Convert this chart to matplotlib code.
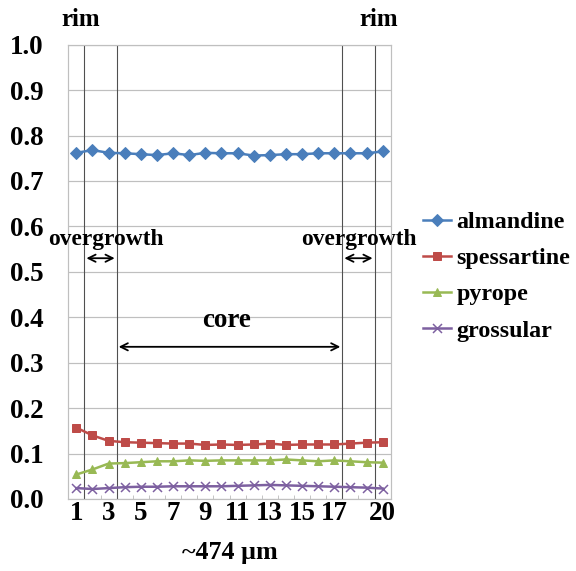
import matplotlib
matplotlib.use("Agg")
import matplotlib.pyplot as plt
import numpy as np

points = list(range(1, 21))
almandine = [0.762, 0.768, 0.762, 0.761, 0.759, 0.757, 0.761, 0.757, 0.762, 0.761,
             0.761, 0.756, 0.757, 0.759, 0.759, 0.761, 0.761, 0.761, 0.761, 0.765]
spessartine = [0.157, 0.140, 0.128, 0.125, 0.124, 0.123, 0.122, 0.122, 0.119, 0.120,
               0.119, 0.120, 0.122, 0.119, 0.120, 0.120, 0.120, 0.122, 0.124, 0.125]
pyrope = [0.054, 0.065, 0.078, 0.079, 0.081, 0.083, 0.083, 0.085, 0.084, 0.085,
          0.085, 0.085, 0.085, 0.087, 0.085, 0.083, 0.085, 0.083, 0.081, 0.080]
grossular = [0.024, 0.022, 0.024, 0.026, 0.027, 0.027, 0.028, 0.028, 0.028, 0.028,
             0.029, 0.030, 0.031, 0.030, 0.029, 0.028, 0.027, 0.026, 0.025, 0.023]
series_names = ["almandine", "spessartine", "pyrope", "grossular"]
xtick_labels = ["1", "3", "5", "7", "9", "11", "13", "15", "17", "20"]
xtick_pos = [1, 3, 5, 7, 9, 11, 13, 15, 17, 20]
boundaries = [1.5, 3.5, 17.5, 19.5]

plt.rcParams['font.family'] = ['Liberation Serif', 'DejaVu Serif']
plt.rcParams['font.weight'] = 'bold'

fig = plt.figure(figsize=(576/72, 571/72), dpi=72)
ax = fig.add_axes([68.3/576, 1-499/571, (390.7-68.3)/576, (499-44.7)/571])

styles = [
    dict(color="#4A7EBB", marker="D", ms=8),
    dict(color="#BE4B48", marker="s", ms=7.5),
    dict(color="#98B954", marker="^", ms=8),
    dict(color="#7D60A0", marker="x", ms=9, mew=1.5),
]
for vals, name, st in zip([almandine, spessartine, pyrope, grossular], series_names, styles):
    ax.plot(points, vals, lw=2.5, label=name, **st)

ax.set_xlim(0.5, 20.5)
ax.set_ylim(0, 1.0)
ax.set_yticks(np.arange(0, 1.01, 0.1))
ax.set_yticklabels([f"{v:.1f}" for v in np.arange(0, 1.01, 0.1)], fontsize=27, fontweight='bold')
ax.set_xticks(xtick_pos)
ax.set_xticklabels(xtick_labels, fontsize=27, fontweight='bold')
ax.set_xticks(np.arange(0.5, 20.6, 1), minor=True)
ax.tick_params(axis='y', length=0, pad=25)
ax.tick_params(axis='x', which='major', length=0, pad=2)
ax.tick_params(axis='x', which='minor', length=4, direction='in', color='#A0A0A0')
ax.grid(axis='y', color='#BFBFBF', lw=1.2)
ax.set_axisbelow(True)
for s in ax.spines.values():
    s.set_color('#BFBFBF')
    s.set_linewidth(1.2)

for b in boundaries:
    ax.axvline(b, color='#505050', lw=1.1, zorder=1)

ax.set_xlabel("~474 µm", fontsize=26, fontweight='bold', labelpad=15)

arrow = dict(arrowstyle='<->', color='black', lw=1.8, mutation_scale=18)
ax.annotate("", xy=(boundaries[0], 0.53), xytext=(boundaries[1], 0.53), arrowprops=arrow)
ax.annotate("", xy=(boundaries[2], 0.53), xytext=(boundaries[3], 0.53), arrowprops=arrow)
ax.annotate("", xy=(boundaries[1], 0.335), xytext=(boundaries[2], 0.335), arrowprops=arrow)
ax.text(2.8, 0.572, "overgrowth", ha='center', va='center', fontsize=23.5, fontweight='bold')
ax.text(18.5, 0.572, "overgrowth", ha='center', va='center', fontsize=23.5, fontweight='bold')
ax.text(10.3, 0.394, "core", ha='center', va='center', fontsize=27, fontweight='bold')

fig.text(81/576, 1-19/571, "rim", ha='center', va='center', fontsize=25, fontweight='bold')
fig.text(379/576, 1-19/571, "rim", ha='center', va='center', fontsize=25, fontweight='bold')

leg = ax.legend(loc='center left', bbox_to_anchor=(1.099, 0.49), frameon=False,
                prop=dict(family='Liberation Serif', weight='bold', size=24),
                handlelength=1.2, handletextpad=0.2, labelspacing=0.6,
                borderaxespad=0, borderpad=0)

fig.savefig("out.png", dpi=72)
